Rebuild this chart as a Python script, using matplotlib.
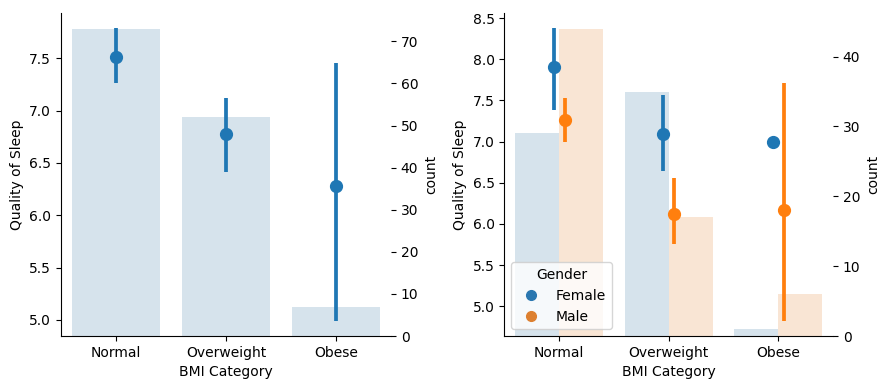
"""
Quality of Sleep by BMI Category, with counts on a twin axis.
"""

import matplotlib
matplotlib.use("Agg")
import matplotlib.pyplot as plt
from matplotlib.lines import Line2D
import numpy as np

# Categories
categories = ["Normal", "Overweight", "Obese"]
genders = ["Female", "Male"]

# Left panel: mean quality of sleep with 95% CI, all genders
mean_all = [7.51, 6.775, 6.284]
ci_low_all = [7.26, 6.413, 4.986]
ci_high_all = [7.79, 7.116, 7.453]
count_all = [73, 52, 7]

# Right panel: split by gender
mean_by_gender = {
    "Female": [7.907, 7.09, 7.0],
    "Male": [7.259, 6.117, 6.165],
}
ci_low_by_gender = {
    "Female": [7.379, 6.642, 7.0],
    "Male": [6.99, 5.753, 4.816],
}
ci_high_by_gender = {
    "Female": [8.38, 7.571, 7.0],
    "Male": [7.535, 6.562, 7.707],
}
count_by_gender = {
    "Female": [29, 35, 1],
    "Male": [44, 17, 6],
}

colors = {"Female": "#1f77b4", "Male": "#ff7f0e"}
# muted versions (seaborn-style desaturation) for bars and legend
bar_colors = {"Female": "#3274a1", "Male": "#e1812c"}
legend_colors = {"Female": "#2a77b0", "Male": "#dd8030"}


def draw_points(ax, x, means, lows, highs, color):
    # Error bars first, then the point markers on top
    for xi, m, lo, hi in zip(x, means, lows, highs):
        ax.plot([xi, xi], [lo, hi], color=color, lw=2.7, solid_capstyle="butt", zorder=3)
    ax.plot(x, means, "o", color=color, markersize=8.5, linestyle="none", zorder=4)


def style_axes(ax, twin):
    ax.set_zorder(twin.get_zorder() + 1)
    ax.patch.set_visible(False)
    for side in ["top", "right"]:
        ax.spines[side].set_visible(False)
    for side in ["top", "right", "left", "bottom"]:
        twin.spines[side].set_visible(False)
    ax.set_xticks(range(len(categories)))
    ax.set_xticklabels(categories)
    ax.set_xlim(-0.5, len(categories) - 0.5)
    ax.set_xlabel("BMI Category")
    ax.set_ylabel("Quality of Sleep")
    twin.set_ylabel("count")


fig = plt.figure(figsize=(8.9, 3.89), dpi=100)
ax1 = fig.add_axes([0.0685, 0.1362, 0.3708, 0.8296])
ax2 = fig.add_axes([0.5667, 0.1362, 0.3693, 0.8296])

x = np.arange(len(categories))

# Left panel
tw1 = ax1.twinx()
tw1.bar(x, count_all, width=0.8, color=bar_colors["Female"], alpha=0.2, linewidth=0)
draw_points(ax1, x, mean_all, ci_low_all, ci_high_all, colors["Female"])
style_axes(ax1, tw1)

# Right panel
tw2 = ax2.twinx()
bar_offsets = {"Female": -0.2, "Male": 0.2}
point_offsets = {"Female": -0.05, "Male": 0.05}
for g in genders:
    tw2.bar(x + bar_offsets[g], count_by_gender[g], width=0.4,
            color=bar_colors[g], alpha=0.2, linewidth=0)
for g in genders:
    draw_points(ax2, x + point_offsets[g], mean_by_gender[g],
                ci_low_by_gender[g], ci_high_by_gender[g], colors[g])
style_axes(ax2, tw2)

handles = [
    Line2D([], [], marker="o", linestyle="none", color=legend_colors[g], markersize=7)
    for g in genders
]
ax2.legend(handles, genders, title="Gender", loc="lower left")

fig.savefig("out.png", dpi=100)
